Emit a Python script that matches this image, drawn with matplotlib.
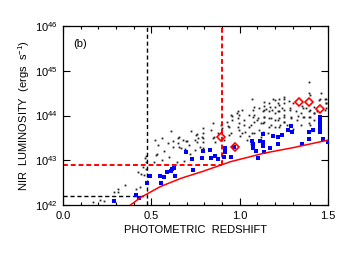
import numpy as np
import matplotlib
matplotlib.use('Agg')
import matplotlib.pyplot as plt
from matplotlib.ticker import MultipleLocator, NullLocator, LogLocator

plt.rcParams['font.family'] = ['Liberation Sans', 'DejaVu Sans']
plt.rcParams['mathtext.fontset'] = 'custom'
plt.rcParams['mathtext.rm'] = 'Liberation Sans'
plt.rcParams['font.size'] = 8

# all galaxies (black dots): redshift, log L
black_z = [0.171, 0.208, 0.231, 0.288, 0.310, 0.313, 0.412, 0.433, 0.426, 0.439, 0.454,
           0.462, 0.522, 0.534, 0.562, 0.613, 0.620, 0.624, 0.650, 0.653, 0.681, 0.666,
           0.700, 0.713, 0.722, 0.745, 0.747, 0.766, 0.775, 0.514, 0.647, 0.684, 0.458,
           0.539, 0.524, 0.596, 0.656, 0.656, 0.694, 0.751,
           0.794, 0.794, 0.794, 0.794, 0.794, 0.836, 0.849, 0.892, 0.934, 0.939, 0.953,
           0.955, 0.987, 0.990, 0.996, 0.993, 1.015, 1.024, 1.028, 1.040, 1.053, 1.062,
           1.078, 1.075, 1.081, 1.081, 1.104, 1.109, 1.129, 1.129, 1.134, 1.119, 1.062,
           1.068, 0.990, 0.996, 0.955, 0.930, 0.851, 0.939, 0.902, 0.756, 1.024, 1.053,
           0.996, 1.068, 1.015, 0.854, 0.789, 0.949,
           1.393, 1.393, 1.138, 1.191, 1.248, 1.279, 1.304, 1.355, 1.421, 1.449, 1.487,
           1.487, 1.081, 1.109, 1.147, 1.172, 1.185, 1.214, 1.214, 1.242, 1.251, 1.285,
           1.317, 1.346, 1.374, 1.393, 1.393, 1.421, 1.440, 1.487, 1.138, 1.176, 1.214,
           1.251, 1.289, 1.327, 1.364, 1.119, 1.176, 1.223, 1.270, 1.346, 1.393, 1.081,
           1.100,
           1.140, 1.140, 1.140, 1.140, 1.164, 1.168, 1.168, 1.168, 1.197, 1.197, 1.197,
           1.197, 1.202, 1.225, 1.225, 1.225, 1.225, 1.228, 1.253, 1.253, 1.253, 1.253,
           1.253, 1.282, 1.291, 1.357, 1.361, 1.395, 1.395, 1.395, 1.423, 1.452, 1.480,
           1.486, 1.480, 1.395,
           0.470, 0.470, 0.470, 0.570, 0.600, 0.690, 0.720, 0.860, 0.880, 0.910, 1.000,
           1.050, 1.160, 1.300, 1.330, 1.420, 1.460, 0.350, 0.560, 0.760]
black_logL = [42.07, 42.11, 42.09, 42.30, 42.35, 42.29, 42.35, 42.41, 42.73, 42.69, 42.86,
              43.04, 43.45, 43.13, 43.49, 43.65, 43.42, 43.29, 43.49, 43.38, 43.45, 43.28,
              43.43, 43.33, 43.65, 43.45, 43.23, 43.49, 43.30, 42.97, 42.97, 42.98, 42.67,
              43.34, 43.12, 43.38, 43.53, 43.30, 43.42, 43.56,
              43.71, 43.60, 43.49, 43.40, 43.27, 43.68, 43.49, 43.79, 43.77, 43.56, 44.01,
              43.90, 44.05, 43.94, 43.83, 43.74, 44.12, 43.90, 43.64, 43.45, 44.01, 43.79,
              44.12, 43.97, 43.86, 43.60, 43.94, 43.68, 44.09, 43.83, 43.64, 43.53, 43.36,
              44.37, 44.09, 44.01, 43.99, 43.86, 43.83, 43.75, 43.71, 43.59, 43.79, 43.75,
              43.68, 43.62, 43.60, 43.51, 43.51, 43.60,
              44.74, 44.50, 44.31, 44.36, 44.41, 44.33, 44.27, 44.21, 44.20, 44.35, 44.36,
              44.27, 44.20, 44.16, 44.14, 44.20, 44.12, 44.27, 44.09, 44.16, 44.01, 44.12,
              44.09, 44.05, 44.16, 44.09, 43.97, 44.05, 44.09, 44.16, 43.97, 43.94, 43.90,
              43.86, 43.94, 43.90, 43.97, 43.83, 43.79, 43.75, 43.79, 43.79, 43.83, 44.01,
              43.90,
              44.22, 44.12, 43.97, 43.86, 44.27, 44.09, 43.94, 43.75, 44.35, 44.20, 44.05,
              43.90, 43.75, 44.38, 44.23, 44.09, 43.94, 43.79, 44.38, 44.27, 44.12, 43.97,
              43.86, 44.16, 43.97, 43.97, 44.16, 44.46, 44.12, 43.97, 44.05, 44.38, 44.38,
              44.27, 44.12, 43.79,
              42.80, 42.95, 43.10, 43.20, 43.08, 43.25, 43.15, 43.40, 43.62, 43.45, 43.55,
              43.55, 43.60, 43.70, 44.00, 43.90, 44.50, 42.45, 43.00, 43.40]

# selected sources (blue squares)
blue_z = [0.289, 0.411, 0.431, 0.473, 0.490, 0.548, 0.552, 0.571, 0.588, 0.611, 0.615,
          0.630, 0.632, 0.696, 0.732, 0.735, 0.789, 0.790, 0.830, 0.836, 0.858, 0.877,
          0.915, 0.915, 0.911, 0.970, 0.953, 1.072, 1.078, 1.078, 1.092, 1.102, 1.113,
          1.134, 1.133, 1.134, 1.136, 1.172, 1.187, 1.214, 1.214, 1.274, 1.293, 1.242,
          1.295, 1.354, 1.394, 1.414, 1.393, 1.455, 1.455, 1.453, 1.453, 1.455, 1.474,
          1.499]
blue_logL = [42.10, 42.22, 42.16, 42.50, 42.65, 42.65, 42.49, 42.63, 42.74, 42.75, 42.81,
             42.83, 42.65, 43.18, 43.02, 42.79, 43.04, 43.20, 43.24, 43.06, 43.10, 43.02,
             43.28, 43.18, 43.08, 43.30, 43.07, 43.44, 43.36, 43.27, 43.20, 43.06, 43.44,
             43.59, 43.40, 43.32, 43.19, 43.28, 43.55, 43.51, 43.36, 43.68, 43.76, 43.56,
             43.64, 43.36, 43.63, 43.68, 43.47, 43.97, 43.90, 43.81, 43.72, 43.64, 43.47,
             43.41]

# red diamonds
red_z = [1.333, 1.393, 1.453, 0.892, 0.974]
red_logL = [44.30, 44.30, 44.14, 43.53, 43.30]

# flux limit curve
curve_z = [0.382, 0.44, 0.55, 0.67, 0.79, 0.95, 1.14, 1.30, 1.50]
curve_logL = [42.0, 42.17, 42.41, 42.60, 42.75, 42.97, 43.16, 43.28, 43.45]

# selection cuts
cut_black_z, cut_black_L = 0.477, 1.6e42
cut_red_z, cut_red_L = 0.90, 8.0e42

fig = plt.figure(figsize=(3.49, 2.57), dpi=100)
ax = fig.add_axes([0.1805, 0.2023, 0.7595, 0.6965])

ax.plot(black_z, 10**np.array(black_logL), 's', ms=1.3, color='#222222', mew=0, zorder=2)
ax.plot(blue_z, 10**np.array(blue_logL), 's', ms=2.6, color='#0000ff', mew=0, zorder=3)
ax.plot(red_z, 10**np.array(red_logL), 'D', ms=4.5, mfc='none', mec='red', mew=1.2, zorder=4)
ax.plot(curve_z, 10**np.array(curve_logL), '-', color='red', lw=1.1, zorder=3)

ax.plot([cut_black_z, cut_black_z], [1e42, 1e46], '--', color='black', lw=1.0, dashes=(3, 2))
ax.plot([0, cut_black_z], [cut_black_L, cut_black_L], '--', color='black', lw=1.0, dashes=(3, 2))
ax.plot([cut_red_z, cut_red_z], [cut_red_L, 1e46], '--', color='red', lw=1.4, dashes=(2.5, 1.5))
ax.plot([0, cut_red_z], [cut_red_L, cut_red_L], '--', color='red', lw=1.4, dashes=(2.5, 1.5))

ax.set_yscale('log')
ax.set_xlim(0, 1.5)
ax.set_ylim(1e42, 1e46)
ax.xaxis.set_major_locator(MultipleLocator(0.5))
ax.xaxis.set_minor_locator(MultipleLocator(0.1))
ax.yaxis.set_major_locator(LogLocator(base=10, numticks=10))
ax.yaxis.set_minor_locator(NullLocator())
ax.set_xticklabels(['%.1f' % v for v in ax.get_xticks()])
ax.tick_params(which='both', direction='in', top=True, right=True, width=0.8)
ax.tick_params(which='major', length=5, pad=4)
ax.tick_params(which='minor', length=2.5)
for s in ax.spines.values():
    s.set_linewidth(0.9)

ax.set_xlabel('PHOTOMETRIC  REDSHIFT', labelpad=3)
ax.set_ylabel(r'NIR  LUMINOSITY  (ergs  s$^{-1}$)', labelpad=2)
ax.text(0.04, 0.93, '(b)', transform=ax.transAxes, va='top', ha='left')

fig.savefig('out.png', dpi=100)
